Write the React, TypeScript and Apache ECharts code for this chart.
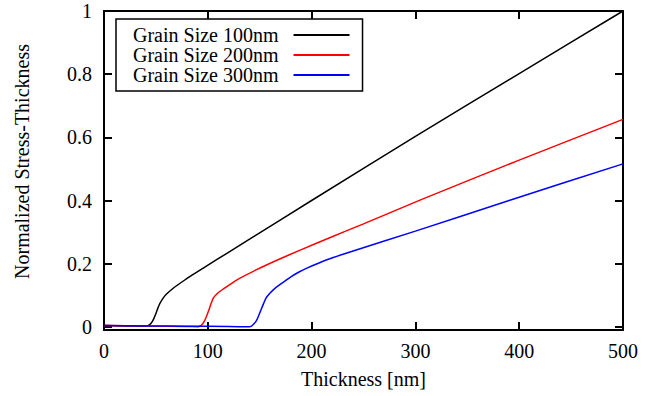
import React, { useEffect, useRef } from "react";
import * as echarts from "echarts";

const seriesNames = ["Grain Size 100nm", "Grain Size 200nm", "Grain Size 300nm"];
const seriesColors = ["#000000", "#ff0000", "#0000ff"];

const x100 = [0, 20, 40, 42, 44, 46, 48, 50, 52, 54, 57, 60, 67, 75, 83, 99, 118, 141, 200, 300, 400, 500];
const y100 = [0.004, 0.003, 0.002, 0.003, 0.007, 0.014, 0.026, 0.042, 0.06, 0.075, 0.091, 0.103, 0.123, 0.142, 0.16, 0.193, 0.232, 0.279, 0.4, 0.603, 0.802, 1.0];

const x200 = [0, 40, 80, 90, 92, 94, 96, 98, 100.6, 103, 105.4, 110, 115, 123, 131, 147, 166, 189, 218, 250, 305, 400, 500];
const y200 = [0.004, 0.003, 0.001, 0.0005, 0.002, 0.006, 0.014, 0.027, 0.049, 0.072, 0.092, 0.108, 0.12, 0.138, 0.154, 0.181, 0.21, 0.243, 0.283, 0.326, 0.402, 0.528, 0.657];

const x300 = [0, 40, 80, 120, 140, 142, 144, 146.6, 149, 151.4, 154, 156.2, 160, 163.3, 170, 179.4, 187, 195.5, 214.7, 237, 300, 391, 500];
const y300 = [0.004, 0.003, 0.002, 0.001, 0.0, 0.002, 0.008, 0.018, 0.035, 0.055, 0.076, 0.092, 0.107, 0.118, 0.135, 0.157, 0.172, 0.186, 0.2125, 0.237, 0.303, 0.401, 0.516];

const yTicks = [0, 0.2, 0.4, 0.6, 0.8, 1];

const FONT = "Liberation Serif";

const axisLine = () => ({ show: true, onZero: false, lineStyle: { color: "#000", width: 2 } });
const tick = () => ({ show: true, inside: true, length: 8, lineStyle: { color: "#000", width: 2 } });
const labelStyle = () => ({ color: "#000", fontFamily: FONT, fontSize: 20 });

export default function App() {
  const ref = useRef<HTMLDivElement>(null);
  useEffect(() => {
    if (!ref.current) return;
    const chart = echarts.init(ref.current, undefined, { renderer: "svg" });
    const xs = [x100, x200, x300];
    const ys = [y100, y200, y300];
    chart.setOption({
      animation: false,
      backgroundColor: "#fff",
      grid: { left: 104, right: 35, top: 11, bottom: 66 },
      legend: {
        show: true,
        data: seriesNames,
        orient: "vertical",
        align: "right",
        left: 116,
        top: 19,
        itemWidth: 56,
        itemHeight: 2,
        itemGap: 0,
        padding: [6, 13, 6, 17],
        borderColor: "#000",
        borderWidth: 1.5,
        selectedMode: false,
        icon: "rect",
        textStyle: { ...labelStyle(), lineHeight: 20, padding: [0, 10, 0, 0] },
      },
      xAxis: [
        {
          type: "value",
          position: "bottom",
          min: 0,
          max: 500,
          interval: 100,
          name: "Thickness [nm]",
          nameLocation: "middle",
          nameGap: 39,
          nameTextStyle: labelStyle(),
          axisLine: axisLine(),
          axisTick: tick(),
          axisLabel: { ...labelStyle(), margin: 11 },
          splitLine: { show: false },
        },
        {
          type: "value",
          position: "top",
          min: 0,
          max: 500,
          interval: 100,
          axisLine: axisLine(),
          axisTick: tick(),
          axisLabel: { show: false },
          splitLine: { show: false },
        },
      ],
      yAxis: [
        {
          type: "value",
          position: "left",
          min: -0.01,
          max: 1,
          name: "Normalized Stress-Thickness",
          nameLocation: "middle",
          nameGap: 72,
          nameRotate: 90,
          nameTextStyle: { ...labelStyle(), padding: [0, 0, 0, 18] },
          axisLine: axisLine(),
          axisTick: { ...tick(), customValues: yTicks },
          axisLabel: { ...labelStyle(), margin: 12, customValues: yTicks },
          splitLine: { show: false },
        },
        {
          type: "value",
          position: "right",
          min: -0.01,
          max: 1,
          axisLine: axisLine(),
          axisTick: { ...tick(), customValues: yTicks },
          axisLabel: { show: false },
          splitLine: { show: false },
        },
      ],
      series: seriesNames.map((name, i) => ({
        name,
        type: "line",
        xAxisIndex: 0,
        yAxisIndex: 0,
        data: xs[i].map((x, j) => [x, ys[i][j]]),
        showSymbol: false,
        symbol: "none",
        smooth: 0.2,
        lineStyle: { color: seriesColors[i], width: 1.5 },
        itemStyle: { color: seriesColors[i] },
        z: 2 + i,
      })),
    });
    return () => chart.dispose();
  }, []);
  return <div ref={ref} style={{ position: "absolute", left: 0, top: 0, width: 658, height: 396 }} />;
}
